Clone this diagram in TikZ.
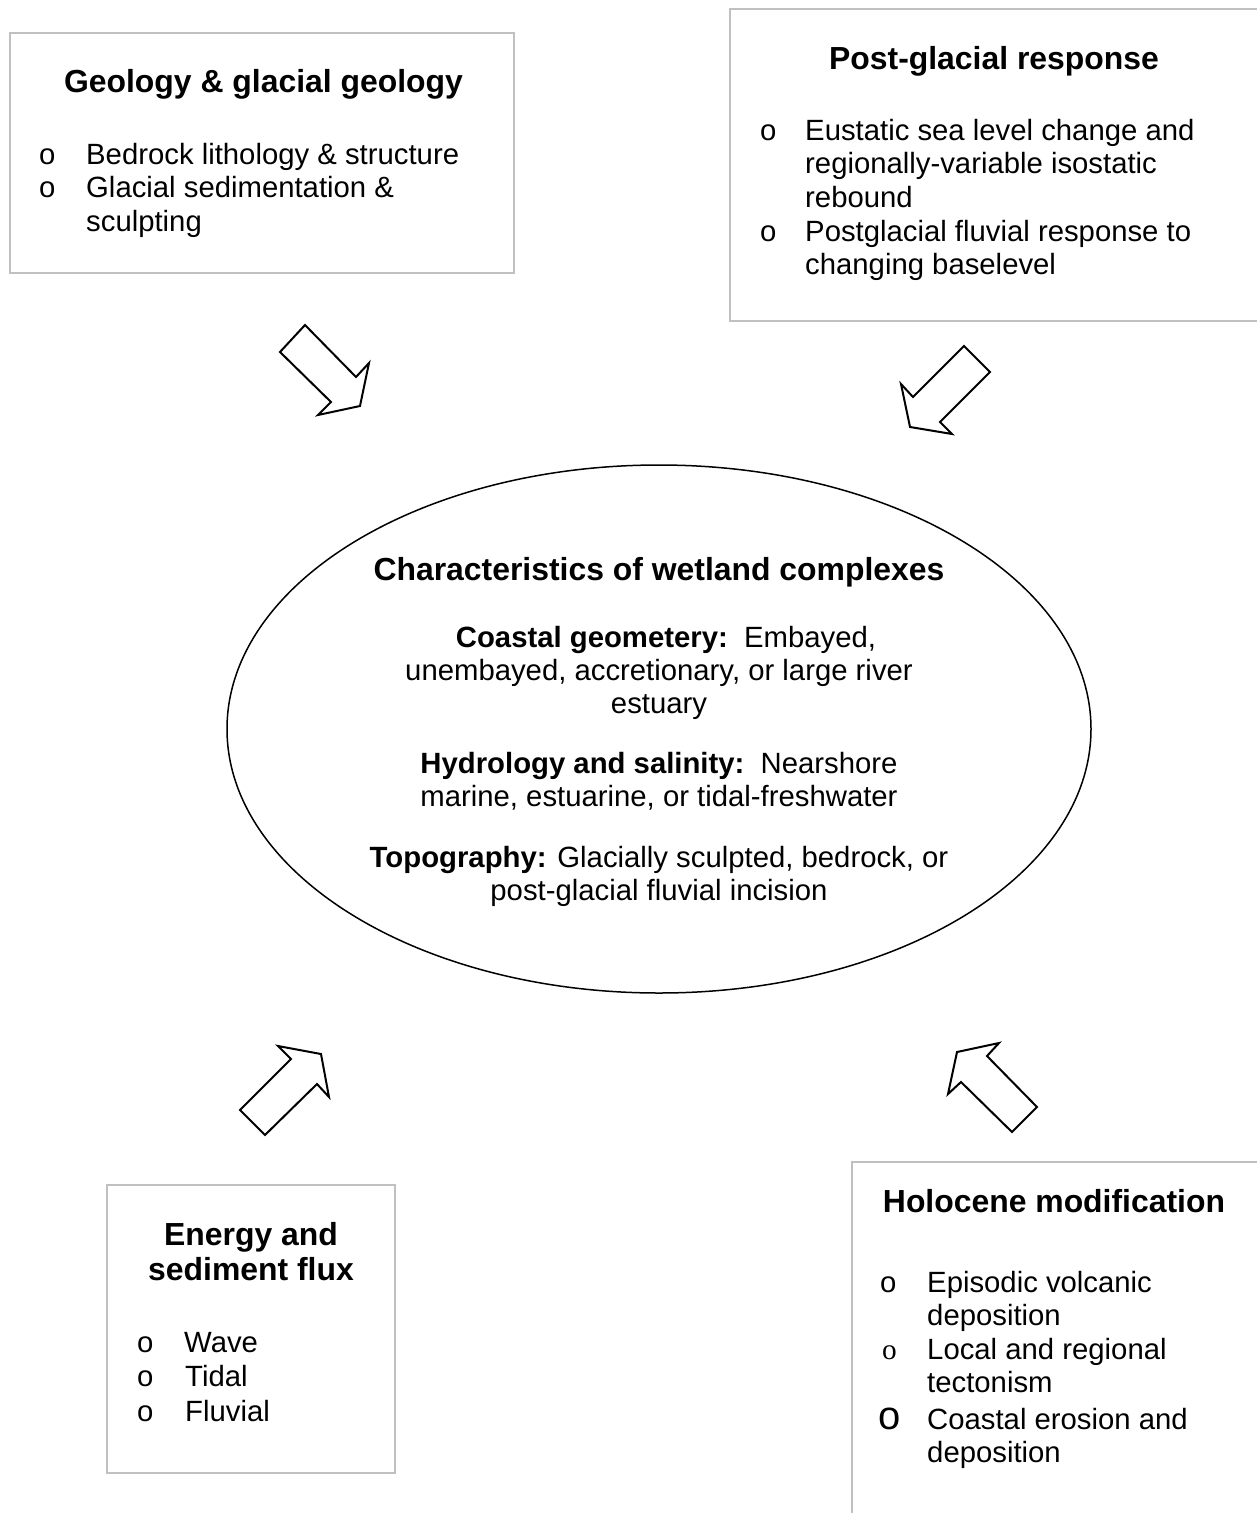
\documentclass[tikz,border=0pt]{standalone}
\usepackage{fontspec}
\setmainfont{Liberation Sans}
\newfontfamily\serifo{Liberation Serif}
\usetikzlibrary{shapes.geometric}
\definecolor{boxgray}{HTML}{C0C0C0}
\begin{document}
\begin{tikzpicture}[x=1pt,y=-1pt,
  box/.style={draw=boxgray, line width=2pt, fill=none, inner sep=0pt},
  ttl/.style={font=\fontsize{31.9}{36}\selectfont\bfseries, anchor=base, inner sep=0pt},
  body/.style={font=\fontsize{29.3}{33.6}\selectfont, anchor=base west, inner sep=0pt},
  para/.style={font=\fontsize{29.3}{33}\selectfont, anchor=base, inner sep=0pt},
  barrow/.style={draw=black, line width=2pt, fill=white, line join=miter},
]
\useasboundingbox (0,0) rectangle (1257,1513);
\clip (0,0) rectangle (1257,1513);
\fill[white] (0,0) rectangle (1257,1513);

% boxes
\node (geo) [box, minimum width=504pt, minimum height=240pt] at (262,153) {};
\node (post) [box, minimum width=540pt, minimum height=312pt] at (1000,165) {};
\node (energy) [box, minimum width=288pt, minimum height=288pt] at (251,1329) {};
\node (holo) [box, minimum width=420pt, minimum height=380pt] at (1062,1352) {};

% central ellipse
\node (core) [draw, ellipse, line width=1.5pt, minimum width=864pt, minimum height=528pt, inner sep=0pt] at (659,729) {};

% block arrows
\draw[barrow] (305,325) -- (280,352) -- (331,402) -- (318,415) -- (360,406) -- (369,363) -- (356,377) -- cycle;
\draw[barrow] (964,346) -- (990,372) -- (940,422) -- (952,434) -- (910,427) -- (901,384) -- (913,397) -- cycle;
\draw[barrow] (265,1135) -- (317,1084) -- (329,1097) -- (321,1054) -- (278,1046) -- (291,1059) -- (240,1110) -- cycle;
\draw[barrow] (1012,1132) -- (961,1082) -- (948,1094) -- (957,1052) -- (999,1043) -- (987,1056) -- (1037,1107) -- cycle;

% box 1
\node[ttl] (geo-t) at (263.5,92) {Geology \& glacial geology};
\node[body] (geo-o1) at (39,164) {o};
\node[body] (geo-l1) at (86,164) {Bedrock lithology \& structure};
\node[body] (geo-o2) at (39,197.5) {o};
\node[body] (geo-l2) at (86,197.5) {\parbox[t]{410pt}{\raggedright Glacial sedimentation \&\\sculpting}};

% box 2
\node[ttl] (post-t) at (994,69) {Post-glacial response};
\node[body] (post-o1) at (760,140) {o};
\node[body] (post-l1) at (805,140) {\parbox[t]{440pt}{\raggedright Eustatic sea level change and\\regionally-variable isostatic\\rebound}};
\node[body] (post-o2) at (760,241) {o};
\node[body] (post-l2) at (805,241) {\parbox[t]{440pt}{\raggedright Postglacial fluvial response to\\changing baselevel}};

% central text
\node[ttl] (core-t) at (659,580) {Characteristics of wetland complexes};
\node[para] (core-p1) at (659,647) {\parbox[t]{760pt}{\centering\hspace*{14pt}\textbf{Coastal geometery:}\ \ Embayed,\\unembayed, accretionary, or large river\\estuary}};
\node[para] (core-p2) at (659,773) {\parbox[t]{760pt}{\centering\textbf{Hydrology and salinity:}\ \ Nearshore\\marine, estuarine, or tidal-freshwater}};
\node[para] (core-p3) at (659,867) {\parbox[t]{760pt}{\centering\textbf{Topography:} Glacially sculpted, bedrock, or\\post-glacial fluvial incision}};

% box 3
\node[ttl] (energy-t) at (251,1245) {\parbox[t]{280pt}{\centering\baselineskip=35.5pt Energy and\\sediment flux}};
\node[body] (energy-o1) at (137,1352) {o};
\node[body] (energy-l1) at (184,1352) {Wave};
\node[body] (energy-o2) at (137,1386.5) {o};
\node[body] (energy-l2) at (185,1386.5) {Tidal};
\node[body] (energy-o3) at (137,1421) {o};
\node[body] (energy-l3) at (185,1421) {Fluvial};

% box 4
\node[ttl] (holo-t) at (1054,1212) {Holocene modification};
\node[body] (holo-o1) at (880,1292) {o};
\node[body] (holo-l1) at (927,1292) {\parbox[t]{320pt}{\raggedright Episodic volcanic\\deposition}};
\node[body] (holo-o2) at (882,1359) {\serifo o};
\node[body] (holo-l2) at (927,1359) {\parbox[t]{320pt}{\raggedright Local and regional\\tectonism}};
\node[body] (holo-o3) at (878,1429) {\fontsize{40}{40}\selectfont o};
\node[body] (holo-l3) at (927,1429) {\parbox[t]{320pt}{\raggedright Coastal erosion and\\deposition}};
\end{tikzpicture}
\end{document}
